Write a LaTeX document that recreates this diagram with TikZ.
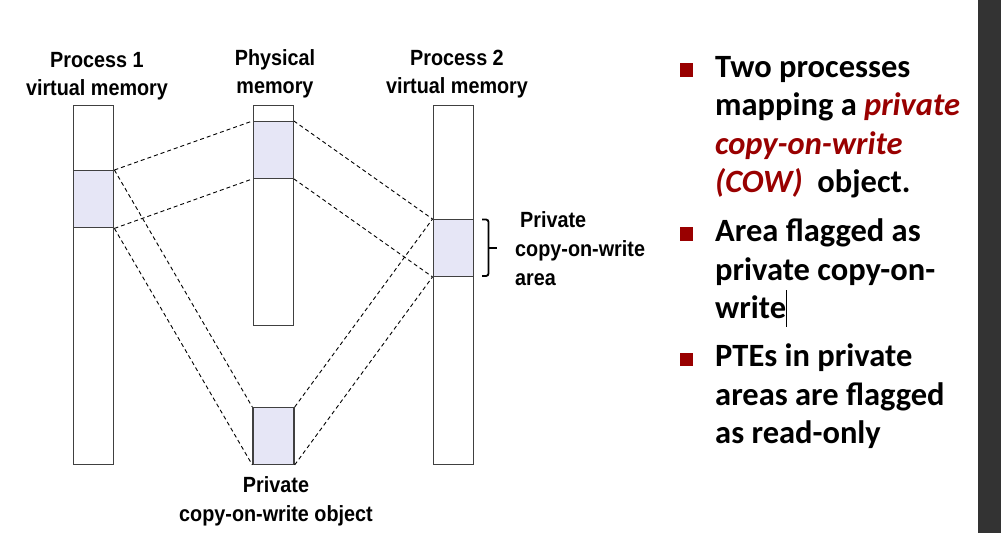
\documentclass[tikz,border=0pt]{standalone}
\usepackage{fontspec}
\setmainfont{Liberation Sans}
\newfontfamily\labfont{Liberation Sans}[FakeStretch=0.9]
\newfontfamily\calibfont{Carlito}
\definecolor{cowred}{HTML}{990000}
\definecolor{memfill}{HTML}{E6E6F6}
\definecolor{memedge}{HTML}{404040}
\definecolor{strip}{HTML}{333333}
\tikzset{
  mem/.style={draw=memedge, line width=1.4pt, fill=white, inner sep=0pt, anchor=north west},
  memsh/.style={mem, fill=memfill},
  map/.style={dashed, dash pattern=on 4pt off 3pt, line width=0.9pt, black},
  lab/.style={font=\labfont\bfseries\fontsize{22}{26}\selectfont, inner sep=0pt, anchor=base},
  labw/.style={lab, anchor=base west},
  txt/.style={font=\calibfont\bfseries\fontsize{32.5}{38}\selectfont, inner sep=0pt, anchor=base west},
  bul/.style={fill=cowred, inner sep=0pt, minimum size=13.5pt, anchor=south west},
}
\begin{document}
\begin{tikzpicture}[x=1pt,y=-1pt]
\useasboundingbox (0,0) rectangle (1001,533);
\fill[strip] (978,0) rectangle (1001,533);
% memory bars
\node[mem, minimum width=40.5pt, minimum height=359.5pt] (p1) at (72.5,104.5) {};
\node[memsh, minimum width=40.5pt, minimum height=57pt] (p1s) at (72.5,170) {};
\node[mem, minimum width=40pt, minimum height=220.5pt] (ph) at (252.5,104.5) {};
\node[memsh, minimum width=40pt, minimum height=56.5pt] (phs) at (252.5,121) {};
\node[mem, minimum width=40pt, minimum height=359.5pt] (p2) at (432.5,104.5) {};
\node[memsh, minimum width=40pt, minimum height=56.5pt] (p2s) at (432.5,219) {};
\node[memsh, minimum width=41pt, minimum height=56.5pt] (cow) at (252.3,407) {};
% mappings
\draw[map] (p1s.north east) -- (phs.north west);
\draw[map] (p1s.south east) -- (phs.south west);
\draw[map] (p1s.north east) -- (cow.north west);
\draw[map] (p1s.south east) -- (cow.south west);
\draw[map] (phs.north east) -- (p2s.north west);
\draw[map] (phs.south east) -- (p2s.south west);
\draw[map] (cow.north east) -- (p2s.north west);
\draw[map] (cow.south east) -- (p2s.south west);
% brace
\coordinate (bt) at (482,219.5);
\coordinate (bb) at (482,276);
\draw[line width=1.8pt, rounded corners=2.5pt] (bt) -- (488.5,219.5) -- (488.5,276) -- (bb);
\draw[line width=1.8pt] (488.5,247.8) -- (496.5,247.8);
% labels
\node[lab] (l1a) at (97,67) {Process 1};
\node[lab] (l1b) at (97,95) {virtual memory};
\node[lab] (l2a) at (275,65) {Physical};
\node[lab] (l2b) at (275,93) {memory};
\node[lab] (l3a) at (457,65) {Process 2};
\node[lab] (l3b) at (457,93) {virtual memory};
\node[labw] (pa) at (520,227) {Private};
\node[labw] (pb) at (515,256) {copy-on-write};
\node[labw] (pc) at (515,285) {area};
\node[lab] (oa) at (276,492) {Private};
\node[lab] (ob) at (276,521) {copy-on-write object};
% bullets
\node[bul] (b1) at (679.5,77) {};
\node[txt] (t1a) at (715,77) {Two processes};
\node[txt] (t1b) at (715,115.5) {mapping a \textcolor{cowred}{\itshape private}};
\node[txt, text=cowred] (t1c) at (715,154) {\itshape copy-on-write};
\node[txt] (t1d) at (715,192.5) {\textcolor{cowred}{\itshape (COW)}\ \ object.};
\node[bul] (b2) at (679.5,241) {};
\node[txt] (t2a) at (715,241.5) {Area flagged as};
\node[txt] (t2b) at (715,280) {private copy-on-};
\node[txt] (t2c) at (715,318.5) {write};
\draw[line width=0.8pt] (786.8,290) -- (786.8,327);
\node[bul] (b3) at (679.5,366.5) {};
\node[txt] (t3a) at (715,366.5) {PTEs in private};
\node[txt] (t3b) at (715,405) {areas are flagged};
\node[txt] (t3c) at (715,443) {as read-only};
\end{tikzpicture}
\end{document}
